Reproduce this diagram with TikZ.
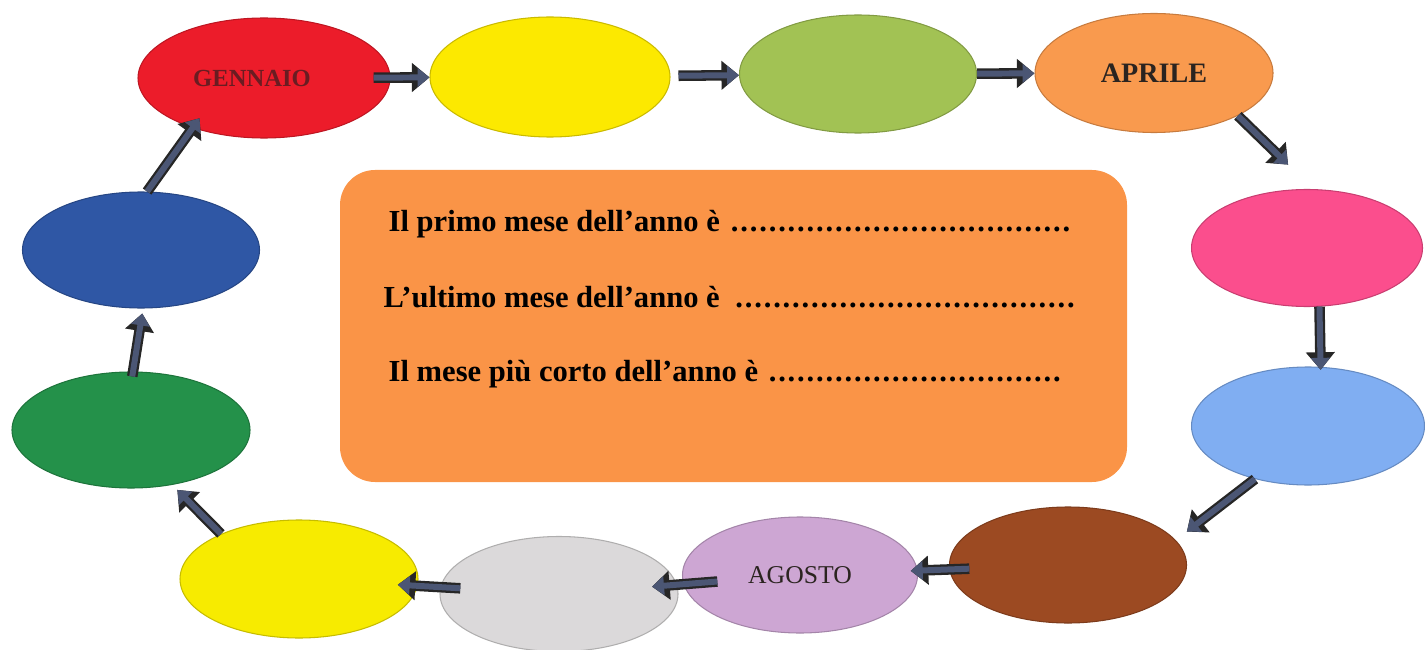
\documentclass[tikz,border=0pt]{standalone}
\usepackage{fontspec}
\setmainfont{Liberation Serif}
\usetikzlibrary{shapes.geometric,arrows.meta}

\definecolor{rosso}{HTML}{EC1C2A}
\definecolor{giallo}{HTML}{FCE900}
\definecolor{oliva}{HTML}{A2C254}
\definecolor{arancio}{HTML}{F99A4E}
\definecolor{rosa}{HTML}{FB4E8D}
\definecolor{celeste}{HTML}{80AEF2}
\definecolor{marrone}{HTML}{9C4A22}
\definecolor{lilla}{HTML}{CDA6D3}
\definecolor{grigio}{HTML}{DBD9DA}
\definecolor{giallob}{HTML}{F7EB00}
\definecolor{verde}{HTML}{24914A}
\definecolor{blu}{HTML}{2F57A5}
\definecolor{riquadro}{HTML}{FA9447}
\definecolor{ardesia}{HTML}{4B5674}
\definecolor{scritta}{HTML}{2B2420}
\definecolor{scrittagen}{HTML}{6A1C22}

\tikzset{
  mese/.style={ellipse, fill=#1, draw=#1!80!black, line width=0.3pt,
    minimum width=23.7mm, minimum height=11.7mm, inner sep=0pt},
  freccia/.style={line width=1.7pt, draw=ardesia,
    -{Triangle[length=3.4pt,width=5.2pt]},
    preaction={draw=black!85, line width=3pt, -{Triangle[length=5pt,width=8pt]}}},
  riga/.style={anchor=base west, inner sep=0pt,
    font=\fontsize{8.7}{10}\selectfont\bfseries},
}
\newcommand\puntini{\leaders\hbox to 0.31em{\hss.\hss}\hfill}

\begin{document}
\begin{tikzpicture}[x=0.1mm, y=-0.1mm]
  \useasboundingbox (0,0) rectangle (1425,649);

  \fill[riquadro, rounded corners=3.5mm] (340,170) rectangle (1127,482); % box in the middle

  \node[riga] (r1) at (388,232) {\hbox to 68.4mm{Il primo mese dell’anno è \puntini}};
  \node[riga] (r2) at (383,307) {\hbox to 69.5mm{L’ultimo mese dell’anno è \puntini}};
  \node[riga] (r3) at (388,381) {\hbox to 68mm{Il mese più corto dell’anno è \puntini}};

  % top row
  \node[mese=rosso, minimum width=25.2mm, minimum height=12mm, text=scrittagen,
    font=\fontsize{7}{8}\selectfont\bfseries] (gen) at (264,78) {GENNAIO\hspace{2.4mm}\mbox{}};
  \node[mese=giallo, minimum width=24mm, minimum height=12mm] (feb) at (550,77) {};
  \node[mese=oliva, minimum height=11.8mm] (mar) at (858,74) {};
  \node[mese=arancio, minimum width=23.8mm, minimum height=11.9mm, text=scritta,
    font=\fontsize{8}{9}\selectfont\bfseries] (apr) at (1154,73) {APRILE};

  % right side
  \node[mese=rosa, minimum width=23.1mm] (mag) at (1307,248) {};
  \node[mese=celeste, minimum width=23.3mm, minimum height=11.8mm] (giu) at (1308,426) {};

  % bottom row
  \node[mese=marrone, minimum height=11.6mm] (lug) at (1068,565) {};
  \node[mese=lilla, minimum width=23.5mm, minimum height=11.6mm, text=scritta,
    font=\fontsize{7.3}{8}\selectfont] (ago) at (800,575) {AGOSTO};
  \node[mese=grigio, minimum width=23.8mm, minimum height=11.5mm] (set) at (559,594) {};
  \node[mese=giallob, minimum width=23.8mm, minimum height=11.8mm] (ott) at (299,579) {};

  % left side
  \node[mese=verde, minimum width=23.8mm, minimum height=11.6mm] (nov) at (131,430) {};
  \node[mese=blu, minimum height=11.6mm] (dic) at (141,250) {};

  \draw[freccia, shorten <=-1.7mm] (gen) -- (feb);
  \draw[freccia, shorten <=0.8mm] (feb) -- (mar);
  \draw[freccia] (mar) -- (apr);
  \draw[freccia, shorten >=3.5mm] (apr.-27) -- (mag.84);
  \draw[freccia, shorten >=-0.3mm] (mag.-78) -- (giu.78);
  \draw[freccia, shorten >=1.4mm] (giu.-135) -- (lug.13);
  \draw[freccia, shorten <=-2mm, shorten >=-0.7mm] (lug) -- (ago);
  \draw[freccia, shorten <=-3.4mm, shorten >=-2.5mm] (ago) -- (set);
  \draw[freccia, shorten <=-2mm, shorten >=-2mm] (set) -- (ott);
  \draw[freccia, shorten >=0.7mm] (ott.150) -- (nov.-53);
  \draw[freccia, shorten <=-0.5mm, shorten >=0.5mm] (nov.88) -- (dic.-88);
  \draw[freccia, shorten >=-1.2mm] (dic.84) -- (gen.-145);
\end{tikzpicture}
\end{document}
